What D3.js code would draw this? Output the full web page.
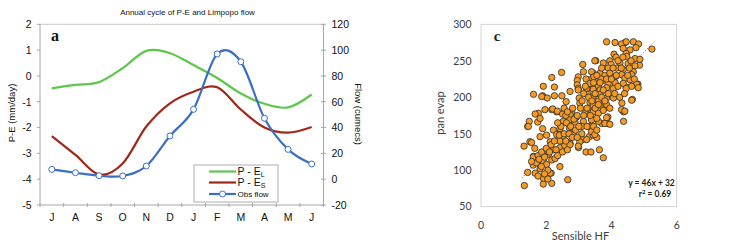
<!DOCTYPE html>
<html><head><meta charset="utf-8">
<script src="https://cdn.jsdelivr.net/npm/d3@7"></script>
<style>body{margin:0;background:#fff}svg{display:block}</style>
</head><body>
<svg id="c" width="733" height="243"></svg>
<script>
// ---- Panel a data ----
const months = ["J","A","S","O","N","D","J","F","M","A","M","J"];
const peL = [-0.48,-0.35,-0.24,0.30,0.97,0.88,0.42,-0.08,-0.68,-1.08,-1.22,-0.72];
const peS = [-2.33,-3.06,-3.82,-3.39,-1.96,-1.06,-0.61,-0.44,-1.30,-2.0,-2.2,-1.98];
const obsFlow = [7.6,5.0,2.7,2.5,10.2,33.5,54.1,97,91,47.2,23.1,11.8];
const leftTicks = [2,1,0,-1,-2,-3,-4,-5];
const rightTicks = [120,100,80,60,40,20,0,-20];
// ---- Panel c data ----
const sensibleHF = [1.32,1.33,1.43,1.50,1.43,1.61,1.89,1.91,2.17,2.25,2.47,2.03,2.25,2.48,2.73,1.76,1.96,2.17,2.32,1.74,1.61,1.61,1.66,1.91,2.17,2.66,3.12,3.14,3.52,3.22,3.37,3.63,3.75,3.85,4.11,4.42,4.67,4.83,5.24,4.86,4.81,4.64,4.45,4.37,4.37,4.32,3.89,3.89,3.70,3.12,3.32,2.99,2.78,2.81,2.42,2.15,
4.31,4.45,4.36,4.57,4.75,4.45,4.08,4.14,4.47,4.72,4.87,3.49,3.75,3.95,3.99,4.26,4.51,4.72,3.90,4.16,4.36,4.67,3.44,3.65,3.80,3.95,4.11,4.31,4.41,4.62,3.34,3.55,3.75,3.90,4.11,4.36,4.57,4.77,3.34,3.60,3.85,4.06,4.62,4.82,
3.39,2.98,3.46,3.22,2.95,3.68,2.95,3.34,2.98,3.44,
1.86,2.98,3.24,3.01,3.27,3.55,3.03,3.34,3.60,2.61,2.20,2.34,1.66,2.50,2.73,2.93,3.19,3.39,3.78,1.48,1.81,2.52,2.71,2.88,3.14,3.39,3.60,1.45,1.89,2.22,2.42,2.71,3.09,3.34,1.81,2.01,2.32,2.52,2.83,3.09,3.44,1.55,2.12,2.42,2.73,3.03,3.24,3.55,
3.65,4.45,3.44,3.65,3.85,4.06,4.62,3.44,3.65,3.85,4.31,4.41,3.44,3.60,3.75,3.39,3.55,3.85,3.80,3.95,3.39,3.49,
1.60,1.75,1.86,2.07,2.22,2.42,2.57,2.73,2.98,1.60,1.81,1.91,2.01,2.12,2.17,2.27,1.91,
1.70,1.78,1.85,1.95,2.00,2.05,2.10,2.15,2.25,2.30,2.35,2.40,2.45,2.50,2.55,2.60,2.62,2.65,2.70,2.75,2.80,2.85,2.90,2.95,1.95,2.05,1.75,1.55,1.65,2.60,2.35,2.55,2.65,
3.05,3.10,3.15,3.20,3.25,3.30,3.35,3.40,3.45,3.50,3.50,3.55,3.60,3.65,3.70,3.70,3.75,3.80,3.85,3.90,3.95,4.00,4.05,4.10,4.15,4.20,4.20,4.25,4.30,4.35,4.40,4.50,4.55,4.60,4.70,3.25,3.15,3.45,3.55,3.00,2.95];
const panEvap = [133,79,160,139,97,204,202,215,227,214,234,199,202,202,208,178,183,183,180,166,119,109,96,81,82,87,245,235,250,125,125,128,117,276,275,275,276,273,266,244,218,197,214,180,167,192,173,164,164,142,146,131,180,185,105,96,
273,276,267,265,268,260,259,255,256,253,252,250,247,250,245,247,246,243,240,240,238,235,233,233,230,233,228,231,226,231,224,222,223,219,220,219,224,218,214,215,213,212,215,213,
235,228,228,225,223,225,217,219,212,211,
201,210,212,199,204,205,192,193,195,194,184,181,177,177,176,173,178,180,185,167,171,167,169,166,167,170,167,160,157,155,157,158,160,160,146,148,149,145,149,150,148,138,139,140,137,139,142,145,
210,212,201,204,199,199,196,189,188,190,183,181,180,178,182,169,171,172,164,163,153,149,
118,120,125,122,128,131,134,135,133,107,102,112,108,96,114,116,89,
110,115,105,118,130,100,125,135,140,128,120,148,160,125,150,140,165,128,150,160,145,170,155,175,95,88,92,112,130,175,165,185,180,
185,195,205,215,185,200,175,195,220,185,205,230,190,220,200,240,210,195,225,205,185,225,240,205,230,215,250,200,240,255,205,230,240,250,225,160,175,160,155,160,145];
const xTicksC = [0,2,4,6];
const yTicksC = [50,100,150,200,250,300];
const fitSlope = 46, fitIntercept = 32;

const svg = d3.select("#c");
const AR = "Liberation Sans, Arial, sans-serif";

// ================= Panel a =================
const L = 40, R = 323.5, T = 24.3, B = 205;
const x = d3.scalePoint().domain(d3.range(12)).range([L, R]).padding(0.5);
const yL = d3.scaleLinear().domain([-5, 2]).range([B, T]);
const yR = d3.scaleLinear().domain([-20, 120]).range([B, T]);
const gray = "#a6a6a6";

// frame
svg.append("line").attr("x1",L).attr("x2",R).attr("y1",T).attr("y2",T).attr("stroke","#c8c8c8");
svg.append("line").attr("x1",L).attr("x2",R).attr("y1",B).attr("y2",B).attr("stroke",gray);
svg.append("line").attr("x1",L).attr("x2",L).attr("y1",T).attr("y2",B).attr("stroke",gray);
svg.append("line").attr("x1",R).attr("x2",R).attr("y1",T).attr("y2",B).attr("stroke",gray);

// left ticks & labels
leftTicks.forEach(v => {
  svg.append("line").attr("x1",L-3).attr("x2",L).attr("y1",yL(v)).attr("y2",yL(v)).attr("stroke",gray);
  svg.append("text").attr("x",31.5).attr("y",yL(v)).attr("dy","0.36em").attr("text-anchor","end")
    .attr("font-family",AR).attr("font-size",10.5).attr("fill","#111").text(v < 0 ? "-" + Math.abs(v) : v);
});
rightTicks.forEach(v => {
  svg.append("line").attr("x1",R-2.5).attr("x2",R+2.5).attr("y1",yR(v)).attr("y2",yR(v)).attr("stroke",gray);
  svg.append("text").attr("x",331.5).attr("y",yR(v)).attr("dy","0.36em").attr("text-anchor","start")
    .attr("font-family",AR).attr("font-size",10.5).attr("fill","#111").text(v < 0 ? "-" + Math.abs(v) : v);
});
// bottom boundary ticks and month labels
const step = x.step();
for (let i = 0; i <= 12; i++) {
  const xx = L + i * step;
  svg.append("line").attr("x1",xx).attr("x2",xx).attr("y1",B-2).attr("y2",B+2).attr("stroke",gray);
}
months.forEach((m,i) => {
  svg.append("text").attr("x",x(i)).attr("y",217).attr("dy","0.36em").attr("text-anchor","middle")
    .attr("font-family",AR).attr("font-size",10.5).attr("fill","#111").text(m);
});

// axis titles
svg.append("text").attr("transform","translate(12,113) rotate(-90)").attr("text-anchor","middle")
  .attr("dy","0.36em").attr("font-family",AR).attr("font-size",9.5).attr("fill","#111").text("P-E (mm/day)");
svg.append("text").attr("transform","translate(358,114) rotate(90)").attr("text-anchor","middle")
  .attr("dy","0.36em").attr("font-family",AR).attr("font-size",9.5).attr("fill","#111").text("Flow (cumecs)");
svg.append("text").attr("x",187.5).attr("y",12.3).attr("dy","0.36em").attr("text-anchor","middle")
  .attr("font-family",AR).attr("font-size",8).attr("fill","#111").text("Annual cycle of P-E and Limpopo flow");
svg.append("text").attr("x",55).attr("y",35).attr("dy","0.36em").attr("text-anchor","middle")
  .attr("font-family","Liberation Serif, Times New Roman, serif").attr("font-weight","bold").attr("font-size",16).attr("fill","#111").text("a");

const curve = d3.curveCatmullRom.alpha(0);
const lineL = d3.line().x((d,i)=>x(i)).y(d=>yL(d)).curve(curve);
const lineR = d3.line().x((d,i)=>x(i)).y(d=>yR(d)).curve(curve);
const cGreen = "#5cc84a", cRed = "#a2271b", cBlue = "#3b6fc2";
svg.append("path").attr("d",lineL(peL)).attr("fill","none").attr("stroke",cGreen).attr("stroke-width",2.2);
svg.append("path").attr("d",lineL(peS)).attr("fill","none").attr("stroke",cRed).attr("stroke-width",2.2);
svg.append("path").attr("d",lineR(obsFlow)).attr("fill","none").attr("stroke",cBlue).attr("stroke-width",2.2);
svg.selectAll("circle.obs").data(obsFlow).enter().append("circle").attr("class","obs")
  .attr("cx",(d,i)=>x(i)).attr("cy",d=>yR(d)).attr("r",3).attr("fill","#fff").attr("stroke",cBlue).attr("stroke-width",1);

// legend
const lg = svg.append("g");
lg.append("rect").attr("x",194).attr("y",165).attr("width",84).attr("height",37).attr("fill","#fff").attr("stroke","#999").attr("stroke-width",0.8);
const legendItems = [
  {c:cGreen, main:"P - E", sub:"L", y:171.5, size:10.5},
  {c:cRed, main:"P - E", sub:"S", y:182.5, size:10.5},
  {c:cBlue, main:"Obs flow", sub:"", y:194, size:8, marker:true}
];
legendItems.forEach(it => {
  lg.append("line").attr("x1",209).attr("x2",236).attr("y1",it.y).attr("y2",it.y).attr("stroke",it.c).attr("stroke-width",2.2);
  if (it.marker) lg.append("circle").attr("cx",222.5).attr("cy",it.y).attr("r",3).attr("fill","#fff").attr("stroke",it.c);
  const t = lg.append("text").attr("x",237.5).attr("y",it.y).attr("dy","0.36em").attr("font-family",AR).attr("font-size",it.size).attr("fill","#111");
  t.append("tspan").text(it.main);
  if (it.sub) t.append("tspan").attr("font-size",7).attr("dy","0.25em").text(it.sub);
});

// ================= Panel c =================
const xc = d3.scaleLinear().domain([0,6]).range([481,676.7]);
const yc = d3.scaleLinear().domain([50,300]).range([206.7,24.3]);
const CF = "Lato, Open Sans, sans-serif";
svg.append("rect").attr("x",481).attr("y",24.3).attr("width",195.7).attr("height",182.4).attr("fill","none").attr("stroke","#c8c8c8").attr("stroke-width",0.8);
yTicksC.forEach(v => {
  svg.append("text").attr("x",471.5).attr("y",yc(v)).attr("dy","0.36em").attr("text-anchor","end")
    .attr("font-family",CF).attr("font-size",10.5).attr("fill","#404040").text(v);
});
xTicksC.forEach(v => {
  svg.append("text").attr("x",xc(v)).attr("y",225).attr("dy","0.36em").attr("text-anchor","middle")
    .attr("font-family",CF).attr("font-size",10.5).attr("fill","#404040").text(v);
});
svg.append("text").attr("x",580.5).attr("y",236.5).attr("dy","0.36em").attr("text-anchor","middle")
  .attr("font-family",CF).attr("font-size",11).attr("fill","#404040").text("Sensible HF");
svg.append("text").attr("transform","translate(440,113) rotate(-90)").attr("text-anchor","middle")
  .attr("dy","0.36em").attr("font-family",CF).attr("font-size",11).attr("fill","#404040").text("pan evap");
svg.append("text").attr("x",497).attr("y",36).attr("dy","0.36em").attr("text-anchor","middle")
  .attr("font-family","Liberation Serif, Times New Roman, serif").attr("font-weight","bold").attr("font-size",15).attr("fill","#222").text("c");

// trendline (dotted)
svg.append("line").attr("x1",xc(1.25)).attr("y1",yc(fitSlope*1.25+fitIntercept))
  .attr("x2",xc(5.3)).attr("y2",yc(fitSlope*5.3+fitIntercept))
  .attr("stroke","#333").attr("stroke-width",0.8).attr("stroke-dasharray","1,2");

const pts = sensibleHF.map((v,i)=>[v, panEvap[i]]);
svg.selectAll("circle.sc").data(pts).enter().append("circle").attr("class","sc")
  .attr("cx",d=>xc(d[0])).attr("cy",d=>yc(d[1])).attr("r",3.2)
  .attr("fill","#f59a23").attr("stroke","#2b2b2b").attr("stroke-width",0.8);

svg.append("text").attr("x",651.5).attr("y",182.7).attr("dy","0.36em").attr("text-anchor","middle")
  .attr("font-family",CF).attr("font-weight","bold").attr("font-size",8.5).attr("fill","#222").text("y = 46x + 32");
const r2 = svg.append("text").attr("x",655).attr("y",193.5).attr("dy","0.36em").attr("text-anchor","middle")
  .attr("font-family",CF).attr("font-weight","bold").attr("font-size",8.5).attr("fill","#222");
r2.append("tspan").text("r");
r2.append("tspan").attr("font-size",6).attr("dy","-0.4em").text("2");
r2.append("tspan").attr("dy","0.3em").text(" = 0.69");
</script>
</body></html>
